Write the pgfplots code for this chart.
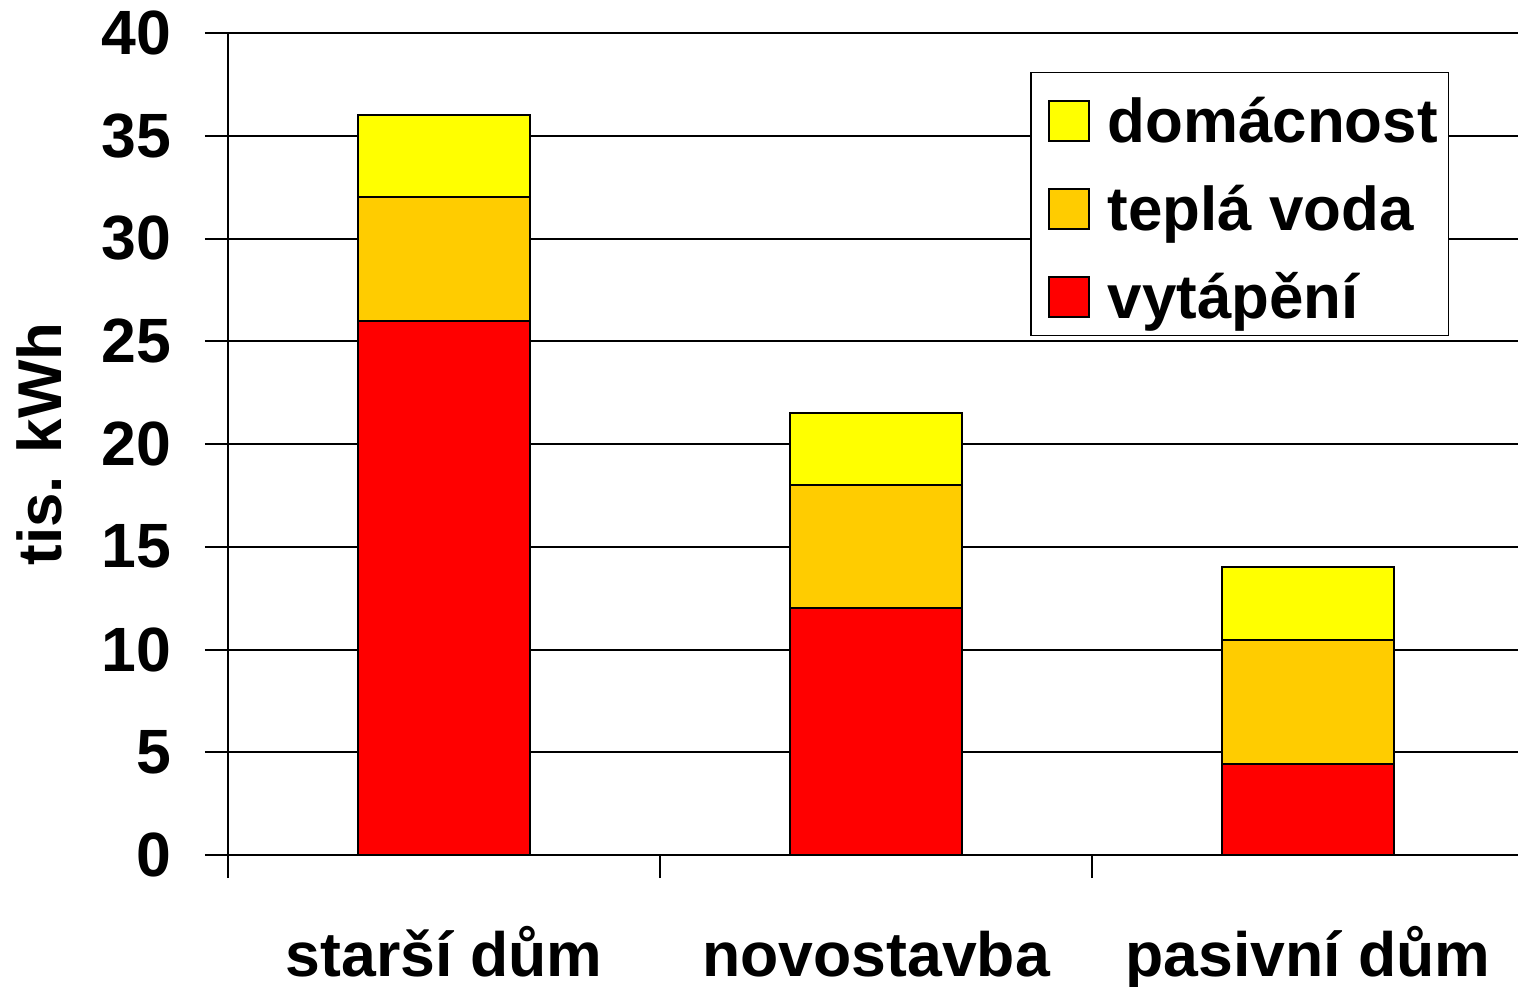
\documentclass[border=0pt]{standalone}
\usepackage{fontspec}
\setmainfont{Liberation Sans}
\usepackage{pgfplots}
\pgfplotsset{compat=1.18}
\definecolor{cred}{RGB}{255,0,0}
\definecolor{corange}{RGB}{255,204,0}
\definecolor{cyellow}{RGB}{255,255,0}
\begin{document}
\begin{tikzpicture}
\useasboundingbox (-22.8mm,-13.2mm) rectangle (129mm,85.5mm);
\begin{axis}[
  scale only axis,
  width=129mm, height=82.2mm,
  xmin=-0.5, xmax=2.486,
  ymin=0, ymax=40,
  ybar stacked,
  bar width=0.4,
  axis x line=bottom, axis y line=left,
  axis line style={-, line width=0.2mm, black},
  ytick={0,5,...,40},
  xtick={0,1,2},
  xticklabels={starší dům, novostavba, pasivní dům},
  minor xtick={-0.5,0.5,1.5},
  tick align=outside,
  major tick length=2.3mm,
  minor tick length=2.3mm,
  major x tick style={draw=none},
  every tick/.style={black, line width=0.2mm},
  ymajorgrids,
  grid style={black, line width=0.2mm},
  tick label style={font=\fontsize{17.8}{20}\selectfont\bfseries},
  /pgf/number format/assume math mode=true,
  yticklabel style={xshift=-2.1mm},
  xticklabel style={anchor=base, yshift=-9.8mm},
  ylabel={tis. kWh},
  ylabel style={font=\fontsize{17.6}{20}\selectfont\bfseries, at={(axis description cs:-0.1465,0.5)}, anchor=center, rotate=0},
  legend style={at={(axis description cs:0.6217,0.9526)}, anchor=north west,
    draw=black, line width=0.15mm, font=\fontsize{17.6}{20}\selectfont\bfseries,
    inner xsep=0.6mm, inner ysep=0.85mm, row sep=1.8mm,
    nodes={text height=5.65mm, text depth=0.35mm, inner sep=0.5mm}},
  legend cell align=left,
  reverse legend,
  legend image code/.code={\path[draw=none, fill=none] (0,-2.5mm) rectangle (6.6mm,2.5mm); \draw[#1, line width=0.2mm] (1.2mm,-2.5mm) rectangle (5.2mm,1.5mm);},
  every axis plot/.append style={draw=black, line width=0.2mm},
]
\addplot[fill=cred] coordinates {(0,26) (1,12) (2,4.45)};
\addplot[fill=corange] coordinates {(0,6) (1,6) (2,6)};
\addplot[fill=cyellow] coordinates {(0,4) (1,3.5) (2,3.55)};
\legend{vytápění, teplá voda, domácnost}
\end{axis}
\end{tikzpicture}
\end{document}
